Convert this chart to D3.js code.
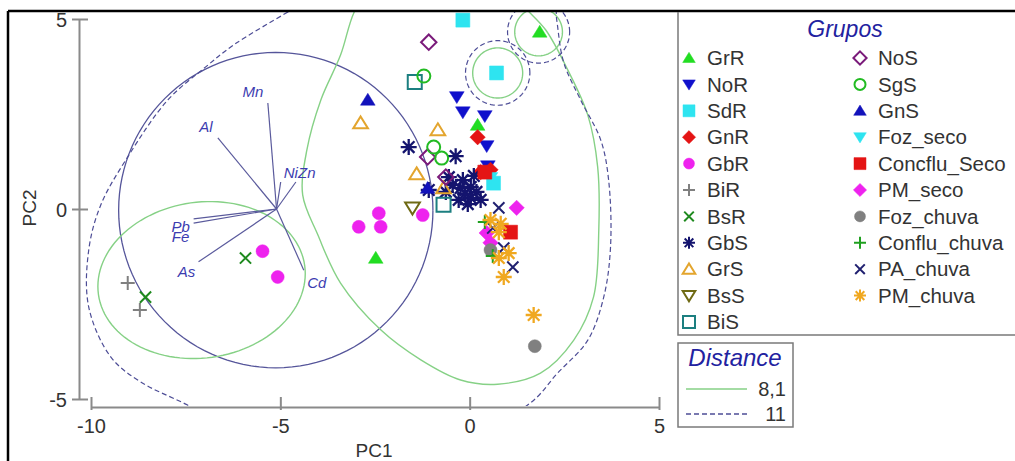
<!DOCTYPE html>
<html>
<head>
<meta charset="utf-8">
<script src="https://cdn.jsdelivr.net/npm/d3@7"></script>
<style>
body { margin: 0; background: #fff; }
svg { display: block; font-family: "Liberation Sans", Arial, sans-serif; }
</style>
</head>
<body>
<div id="chart"></div>
<script>
// groups in legend order (column 1 then column 2)
var groupNames = ["GrR", "NoR", "SdR", "GnR", "GbR", "BiR", "BsR", "GbS", "GrS", "BsS", "BiS",
  "NoS", "SgS", "GnS", "Foz_seco", "Concflu_Seco", "PM_seco", "Foz_chuva", "Conflu_chuva", "PA_chuva", "PM_chuva"];

// PC1, PC2 scores per group
var GrR = [[1.85, 4.66], [0.21, 2.21], [-2.48, -1.29]];
var NoR = [[-0.34, 2.95], [-0.18, 2.55], [0.40, 2.45], [0.45, 1.66], [0.48, 1.13]];
var SdR = [[-0.18, 4.97], [0.71, 3.58], [0.63, 0.68]];
var GnR = [[0.21, 1.89], [0.29, 0.97], [0.55, 1.03]];
var GbR = [[-2.93, -0.47], [-2.40, -0.11], [-2.35, -0.47], [-1.24, -0.16], [-5.47, -1.11], [-5.07, -1.79]];
var BiR = [[-9.03, -1.95], [-8.71, -2.66]];
var BsR = [[-8.56, -2.32], [-5.92, -1.29]];
var GbS = [[-1.61, 1.63], [-0.37, 1.39], [-0.55, 0.84], [-0.18, 0.76], [0.03, 0.58], [0.18, 0.45],
  [-0.29, 0.24], [-0.05, 0.13], [-0.63, 0.45], [-1.08, 0.50], [0.11, 0.87], [-0.24, 0.55],
  [0.03, 0.29], [-0.45, 0.63], [0.29, 0.24], [-0.12, 0.40]];
var GrS = [[-2.88, 2.26], [-0.84, 2.08], [-1.40, 0.92], [-0.69, 0.55]];
var BsS = [[-1.51, 0.03]];
var BiS = [[-1.45, 3.34], [-0.69, 0.11]];
var NoS = [[-1.08, 4.39], [-1.11, 1.37], [-0.63, 0.84]];
var SgS = [[-1.21, 3.50], [-0.95, 1.63], [-0.74, 1.34]];
var GnS = [[-2.69, 2.87], [-1.11, 0.55]];
var Foz_seco = [[0.55, 0.82]];
var Concflu_Seco = [[0.40, 0.97], [1.08, -0.61]];
var PM_seco = [[1.24, 0.03], [0.45, -0.63], [0.55, -0.89]];
var Foz_chuva = [[1.72, -3.61], [0.55, -1.08]];
var Conflu_chuva = [[0.40, -0.34], [0.61, -1.24]];
var PA_chuva = [[0.77, 0.03], [1.14, -1.53], [0.61, -0.50], [0.90, -1.03]];
var PM_chuva = [[0.55, -0.29], [0.77, -0.61], [0.82, -0.39], [1.03, -1.16], [0.77, -1.29], [0.90, -1.79], [1.69, -2.79]];

// variable loadings (biplot vectors)
var loadNames = ["Mn", "Al", "Ni", "Zn", "Pb", "Fe", "As", "Cd"];
var loadX = [-5.33, -6.65, -4.99, -4.59, -7.29, -7.29, -7.16, -4.38];
var loadY = [2.79, 1.87, 0.71, 0.71, -0.26, -0.37, -1.39, -1.61];
var loadOrigin = [-5.1, 0.0];

// cluster outlines: [cx, cy, rx, ry, angle]
var ellipses81 = [[-7.08, -1.87, 2.75, 2.05, 8], [1.82, 4.66, 0.63, 0.63, 0], [0.74, 3.58, 0.66, 0.66, 0]];
var ellipses11 = [[1.82, 4.66, 0.82, 0.82, 0], [0.74, 3.58, 0.85, 0.85, 0]];
var circleLoad = [-5.12, -0.03, 4.15, 4.15, 0];
var hull81 = [[-0.77, 6.68], [-2.61, 5.89], [-3.06, 5.16], [-3.41, 4.05], [-3.93, 2.87], [-4.30, 1.55],
  [-4.41, 0.37], [-4.01, -0.68], [-3.41, -1.95], [-2.35, -3.18], [-1.29, -3.97], [-0.24, -4.50],
  [0.74, -4.61], [1.87, -4.32], [2.75, -3.45], [3.27, -2.32], [3.41, -0.55], [3.38, 1.11],
  [3.12, 2.47], [2.59, 3.66], [2.01, 4.71], [1.40, 5.37], [0.82, 6.16]];
var hull11 = [[-3.93, 5.71], [-4.81, 5.18], [-6.23, 4.32], [-6.97, 3.74], [-7.97, 2.87], [-9.03, 1.37],
  [-9.74, 0.11], [-10.06, -1.08], [-10.06, -2.58], [-9.48, -3.89], [-8.69, -4.55], [-7.45, -5.16],
  [-5.78, -6.08], [-1.82, -6.74], [1.53, -5.16], [2.32, -4.32], [3.12, -3.45], [3.54, -2.32],
  [3.72, -1.00], [3.67, 0.76], [3.46, 1.82], [2.93, 2.87], [2.48, 3.87], [2.30, 4.97], [2.14, 6.16], [-1.03, 6.82]];

var xTicks = [-10, -5, 0, 5];
var yTicks = [-5, 0, 5];
var distLabels = ["8,1", "11"];

var groupData = {
  GrR: GrR, NoR: NoR, SdR: SdR, GnR: GnR, GbR: GbR, BiR: BiR, BsR: BsR, GbS: GbS, GrS: GrS, BsS: BsS, BiS: BiS,
  NoS: NoS, SgS: SgS, GnS: GnS, Foz_seco: Foz_seco, Concflu_Seco: Concflu_Seco, PM_seco: PM_seco,
  Foz_chuva: Foz_chuva, Conflu_chuva: Conflu_chuva, PA_chuva: PA_chuva, PM_chuva: PM_chuva
};

// marker style per group
var styles = {
  GrR: { shape: "triUp", color: "#22dd22", filled: true },
  NoR: { shape: "triDown", color: "#1010cc", filled: true },
  SdR: { shape: "square", color: "#2ee4f0", filled: true },
  GnR: { shape: "diamond", color: "#e41414", filled: true },
  GbR: { shape: "circle", color: "#ee22ee", filled: true },
  BiR: { shape: "plus", color: "#808080", filled: false },
  BsR: { shape: "cross", color: "#1f8a1f", filled: false },
  GbS: { shape: "star", color: "#14146e", filled: false },
  GrS: { shape: "triUp", color: "#e3a52e", filled: false },
  BsS: { shape: "triDown", color: "#6f6a14", filled: false },
  BiS: { shape: "square", color: "#1c7f80", filled: false },
  NoS: { shape: "diamond", color: "#7a1a7a", filled: false },
  SgS: { shape: "circle", color: "#22bb22", filled: false },
  GnS: { shape: "triUp", color: "#1212bb", filled: true },
  Foz_seco: { shape: "triDown", color: "#2ee4f0", filled: true },
  Concflu_Seco: { shape: "square", color: "#e41414", filled: true },
  PM_seco: { shape: "diamond", color: "#ee22ee", filled: true },
  Foz_chuva: { shape: "circle", color: "#808080", filled: true },
  Conflu_chuva: { shape: "plus", color: "#20a020", filled: false },
  PA_chuva: { shape: "cross", color: "#202070", filled: false },
  PM_chuva: { shape: "star", color: "#f0a820", filled: false }
};

function markerPath(shape, s) {
  if (shape == "triUp") return "M0," + (-s * 0.95) + "L" + (s * 1.05) + "," + (s * 0.75) + "L" + (-s * 1.05) + "," + (s * 0.75) + "Z";
  if (shape == "triDown") return "M0," + (s * 0.95) + "L" + (s * 1.05) + "," + (-s * 0.75) + "L" + (-s * 1.05) + "," + (-s * 0.75) + "Z";
  if (shape == "square") return "M" + (-s) + "," + (-s) + "H" + s + "V" + s + "H" + (-s) + "Z";
  if (shape == "diamond") return "M0," + (-s * 1.1) + "L" + (s * 1.1) + ",0L0," + (s * 1.1) + "L" + (-s * 1.1) + ",0Z";
  if (shape == "circle") return "M" + s + ",0A" + s + "," + s + " 0 1,1 " + (-s) + ",0A" + s + "," + s + " 0 1,1 " + s + ",0Z";
  if (shape == "plus") return "M" + (-s) + ",0H" + s + "M0," + (-s) + "V" + s;
  if (shape == "cross") { var c = s * 0.8; return "M" + (-c) + "," + (-c) + "L" + c + "," + c + "M" + c + "," + (-c) + "L" + (-c) + "," + c; }
  // asterisk, 8 arms
  var d = s * 0.72;
  return "M0," + (-s) + "V" + s + "M" + (-s) + ",0H" + s + "M" + (-d) + "," + (-d) + "L" + d + "," + d + "M" + d + "," + (-d) + "L" + (-d) + "," + d;
}

var width = 1015, height = 461;
var x = d3.scaleLinear().domain([-10, 5]).range([91, 659]);
var y = d3.scaleLinear().domain([-5, 5]).range([399, 19]);

var svg = d3.select("#chart").append("svg")
  .attr("width", width)
  .attr("height", height);

svg.append("rect").attr("width", width).attr("height", height).attr("fill", "#fff");

svg.append("clipPath").attr("id", "plotclip")
  .append("rect").attr("x", 80).attr("y", 12).attr("width", 590).attr("height", 394);

var plot = svg.append("g").attr("clip-path", "url(#plotclip)");

function ellipsePoints(e) {
  var a = e[4] * Math.PI / 180;
  return d3.range(0, 121).map(function (i) {
    var t = i / 120 * 2 * Math.PI;
    var ex = e[2] * Math.cos(t), ey = e[3] * Math.sin(t);
    return [e[0] + ex * Math.cos(a) - ey * Math.sin(a), e[1] + ex * Math.sin(a) + ey * Math.cos(a)];
  });
}
var line = d3.line().x(d => x(d[0])).y(d => y(d[1]));
var smooth = d3.line().x(d => x(d[0])).y(d => y(d[1])).curve(d3.curveCatmullRomClosed.alpha(0.5));

var green = "#86d186", dashBlue = "#4d4d96";

// loadings circle
plot.append("path")
  .attr("d", line(ellipsePoints(circleLoad)))
  .attr("fill", "none").attr("stroke", "#55559a").attr("stroke-width", 1.3);

// distance 8,1 outlines
plot.selectAll(".e81").data(ellipses81).enter().append("path")
  .attr("d", d => line(ellipsePoints(d)))
  .attr("fill", "none").attr("stroke", green).attr("stroke-width", 1.4);
plot.append("path").attr("d", smooth(hull81))
  .attr("fill", "none").attr("stroke", green).attr("stroke-width", 1.4);

// distance 11 outlines
plot.selectAll(".e11").data(ellipses11).enter().append("path")
  .attr("d", d => line(ellipsePoints(d)))
  .attr("fill", "none").attr("stroke", dashBlue).attr("stroke-width", 1.2).attr("stroke-dasharray", "5,3");
plot.append("path").attr("d", smooth(hull11))
  .attr("fill", "none").attr("stroke", dashBlue).attr("stroke-width", 1.2).attr("stroke-dasharray", "5,3");

// loading vectors
var labelOffsets = {
  Mn: [-15, -11], Al: [-12, -11], Ni: [10, -10], Zn: [11, -10],
  Pb: [-13, 8], Fe: [-13, 13], As: [-12, 10], Cd: [13, 12]
};
loadNames.forEach(function (n, i) {
  plot.append("line")
    .attr("x1", x(loadOrigin[0])).attr("y1", y(loadOrigin[1]))
    .attr("x2", x(loadX[i])).attr("y2", y(loadY[i]))
    .attr("stroke", "#5a5a9c").attr("stroke-width", 1.2);
  plot.append("text")
    .attr("x", x(loadX[i]) + labelOffsets[n][0])
    .attr("y", y(loadY[i]) + labelOffsets[n][1])
    .attr("text-anchor", "middle").attr("dominant-baseline", "central")
    .style("font-size", "15px").style("font-style", "italic")
    .attr("fill", "#3c3cb0")
    .text(n);
});

// points
groupNames.forEach(function (g) {
  var st = styles[g];
  var big = st.shape == "star" ? 8 : (st.shape == "circle" ? 6.5 : 7);
  plot.selectAll(null).data(groupData[g]).enter().append("path")
    .attr("transform", d => "translate(" + x(d[0]) + "," + y(d[1]) + ")")
    .attr("d", markerPath(st.shape, big))
    .attr("fill", st.filled ? st.color : "none")
    .attr("stroke", st.color)
    .attr("stroke-width", st.filled ? 0.5 : (st.shape == "star" ? 2.3 : 2));
});

// axes
var xAxis = svg.append("g").attr("transform", "translate(0,407)")
  .call(d3.axisBottom(x).tickValues(xTicks).tickSizeOuter(0).tickFormat(d3.format("d")));
xAxis.selectAll(".tick line").attr("y1", 3).attr("y2", -10);
var yAxis = svg.append("g").attr("transform", "translate(79,0)")
  .call(d3.axisLeft(y).tickValues(yTicks).tickSizeOuter(0).tickFormat(d3.format("d")));
yAxis.selectAll(".tick line").attr("x1", -7).attr("x2", 9);
[xAxis, yAxis].forEach(function (ax) {
  ax.select(".domain").attr("stroke", "#8a8a8a").attr("stroke-width", 2);
  ax.selectAll(".tick line").attr("stroke", "#8a8a8a").attr("stroke-width", 2);
  ax.selectAll(".tick text").attr("fill", "#333").style("font-size", "20px")
    .style("font-family", "'Liberation Sans', Arial, sans-serif");
});
xAxis.selectAll(".tick text").attr("y", 12).attr("dy", "0.71em");
yAxis.selectAll(".tick text").attr("x", -12).attr("dy", "0.35em");
// minus signs as plain hyphens
xAxis.selectAll(".tick text").text(d => String(d));
yAxis.selectAll(".tick text").text(d => String(d));

svg.append("text").attr("x", 374).attr("y", 457)
  .attr("text-anchor", "middle").attr("fill", "#333").style("font-size", "19px").text("PC1");
svg.append("text").attr("transform", "translate(36,208) rotate(-90)")
  .attr("text-anchor", "middle").attr("fill", "#333").style("font-size", "19px").text("PC2");

// outer frame
svg.append("line").attr("x1", 8).attr("y1", 11).attr("x2", width).attr("y2", 11).attr("stroke", "#000").attr("stroke-width", 2.5);
svg.append("line").attr("x1", 8).attr("y1", 11).attr("x2", 8).attr("y2", height).attr("stroke", "#000").attr("stroke-width", 2.5);

// legend: groups
var leg = svg.append("g");
leg.append("path").attr("d", "M678,12V335H1016")
  .attr("fill", "none").attr("stroke", "#7a7a7a").attr("stroke-width", 1.5);
leg.append("text").attr("x", 845).attr("y", 37).attr("text-anchor", "middle")
  .style("font-size", "23px").style("font-style", "italic").attr("fill", "#2222a0").text("Grupos");
groupNames.forEach(function (g, i) {
  var col = i < 11 ? 0 : 1;
  var row = col == 0 ? i : i - 11;
  var sx = col == 0 ? 689 : 860, tx = col == 0 ? 707 : 878;
  var cy = 58 + row * 26.4;
  var st = styles[g];
  leg.append("path")
    .attr("transform", "translate(" + sx + "," + cy + ")")
    .attr("d", markerPath(st.shape, st.shape == "circle" ? 5.5 : 6))
    .attr("fill", st.filled ? st.color : "none")
    .attr("stroke", st.color)
    .attr("stroke-width", st.filled ? 0.5 : 2);
  leg.append("text").attr("x", tx).attr("y", cy).attr("dy", "0.35em")
    .style("font-size", "20.5px").attr("fill", "#333").text(g);
});

// legend: distance
var dl = svg.append("g");
dl.append("rect").attr("x", 678).attr("y", 343).attr("width", 115).attr("height", 84)
  .attr("fill", "#fff").attr("stroke", "#7a7a7a").attr("stroke-width", 1.5);
dl.append("text").attr("x", 735).attr("y", 366).attr("text-anchor", "middle")
  .style("font-size", "24px").style("font-style", "italic").attr("fill", "#2222a0").text("Distance");
dl.append("line").attr("x1", 686).attr("x2", 747).attr("y1", 389).attr("y2", 389)
  .attr("stroke", green).attr("stroke-width", 1.6);
dl.append("line").attr("x1", 686).attr("x2", 747).attr("y1", 414).attr("y2", 414)
  .attr("stroke", dashBlue).attr("stroke-width", 1.3).attr("stroke-dasharray", "5,3");
distLabels.forEach(function (t, i) {
  dl.append("text").attr("x", 786).attr("y", 389 + i * 25).attr("dy", "0.35em")
    .attr("text-anchor", "end").style("font-size", "20px").attr("fill", "#333").text(t);
});
</script>
</body>
</html>
